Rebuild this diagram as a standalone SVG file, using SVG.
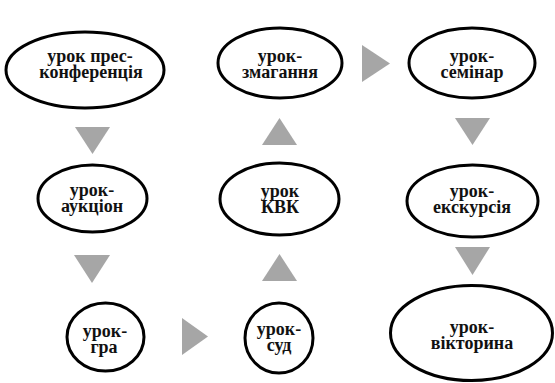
<svg xmlns="http://www.w3.org/2000/svg" width="555" height="383" viewBox="0 0 555 383">
<style>
.n{fill:#fff;stroke:#000;stroke-width:3}
.t{font-family:'Liberation Serif','Tinos','DejaVu Serif','Times New Roman',serif;font-weight:700;font-size:18px;fill:#111;text-anchor:middle}
.a{fill:#a6a6a6;stroke:none}
</style>
<rect width="555" height="383" fill="#fff"/>
<g id="connectors">
<polygon class="a" points="75,127 110,127 92.5,154"/>
<polygon class="a" points="74,255 110,255 92,283"/>
<polygon class="a" points="182,318 182,355 208,336.5"/>
<polygon class="a" points="262,281 297,281 279.5,254"/>
<polygon class="a" points="262,145 297,145 279.5,118"/>
<polygon class="a" points="362,45 362,82 390,63.5"/>
<polygon class="a" points="455,118 490,118 472.5,145"/>
<polygon class="a" points="455,247 490,247 472.5,275"/>
</g>
<g id="node-press">
<ellipse class="n" cx="85" cy="70" rx="79" ry="38"/>
<text class="t" x="90" y="62">урок прес-</text>
<text class="t" x="91" y="78">конференція</text>
</g>
<g id="node-auction">
<ellipse class="n" cx="92.5" cy="198.5" rx="54.5" ry="33.5"/>
<text class="t" x="92" y="196">урок-</text>
<text class="t" x="92" y="212">аукціон</text>
</g>
<g id="node-game">
<ellipse class="n" cx="105.5" cy="337" rx="38.5" ry="34"/>
<text class="t" x="105" y="337">урок-</text>
<text class="t" x="104" y="353">гра</text>
</g>
<g id="node-court">
<ellipse class="n" cx="279" cy="338" rx="34" ry="35"/>
<text class="t" x="279" y="335">урок-</text>
<text class="t" x="279" y="351">суд</text>
</g>
<g id="node-kvk">
<ellipse class="n" cx="279.5" cy="199" rx="59.5" ry="36"/>
<text class="t" x="280" y="197">урок</text>
<text class="t" x="280" y="213">КВК</text>
</g>
<g id="node-contest">
<ellipse class="n" cx="280" cy="63" rx="62" ry="35"/>
<text class="t" x="280" y="62">урок-</text>
<text class="t" x="280" y="78">змагання</text>
</g>
<g id="node-seminar">
<ellipse class="n" cx="472" cy="63" rx="63" ry="35"/>
<text class="t" x="472" y="62">урок-</text>
<text class="t" x="472" y="78">семінар</text>
</g>
<g id="node-excursion">
<ellipse class="n" cx="472.5" cy="201" rx="65.5" ry="36"/>
<text class="t" x="472" y="197">урок-</text>
<text class="t" x="472" y="213">екскурсія</text>
</g>
<g id="node-quiz">
<ellipse class="n" cx="471.5" cy="333" rx="81" ry="47.5"/>
<text class="t" x="472" y="333">урок-</text>
<text class="t" x="472" y="349">вікторина</text>
</g>
</svg>
